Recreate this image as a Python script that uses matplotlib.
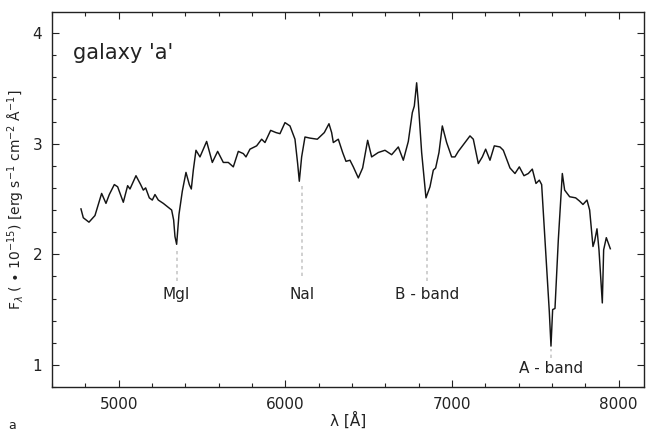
import matplotlib
matplotlib.use("Agg")
import matplotlib.pyplot as plt
from matplotlib.ticker import MultipleLocator

# Spectrum of galaxy 'a'
wavelength = [4774, 4788, 4822, 4858, 4898, 4924, 4944, 4974, 4994, 5028,
              5054, 5068, 5104, 5132, 5148, 5162, 5184, 5202, 5218, 5238,
              5268, 5318, 5330, 5338, 5348, 5362, 5382, 5404, 5424, 5436,
              5448, 5464, 5488, 5528, 5562, 5594, 5628, 5658, 5688, 5718,
              5748, 5764, 5788, 5828, 5858, 5878, 5912, 5944, 5968, 5998,
              6028, 6058, 6074, 6084, 6098, 6118, 6148, 6192, 6234, 6262,
              6278, 6288, 6318, 6344, 6364, 6388, 6408, 6438, 6464, 6494,
              6518, 6558, 6598, 6638, 6678, 6708, 6738, 6762, 6774, 6788,
              6798, 6818, 6844, 6868, 6888, 6902, 6922, 6942, 6968, 6998,
              7018, 7038, 7068, 7108, 7128, 7158, 7182, 7202, 7228, 7254,
              7288, 7308, 7348, 7378, 7404, 7432, 7458, 7482, 7504, 7524,
              7538, 7558, 7584, 7594, 7604, 7618, 7638, 7662, 7676, 7706,
              7742, 7766, 7786, 7810, 7826, 7846, 7856, 7870, 7882, 7902,
              7910, 7926, 7950]
flux = [2.41, 2.33, 2.29, 2.35, 2.55, 2.46, 2.54, 2.63, 2.61, 2.47,
        2.62, 2.59, 2.71, 2.63, 2.58, 2.60, 2.51, 2.49, 2.54, 2.49,
        2.46, 2.40, 2.31, 2.16, 2.09, 2.36, 2.57, 2.74, 2.63, 2.59,
        2.76, 2.94, 2.88, 3.02, 2.83, 2.93, 2.83, 2.83, 2.79, 2.93,
        2.91, 2.88, 2.95, 2.98, 3.04, 3.01, 3.12, 3.10, 3.09, 3.19,
        3.16, 3.04, 2.82, 2.66, 2.88, 3.06, 3.05, 3.04, 3.10, 3.18,
        3.10, 3.01, 3.04, 2.92, 2.84, 2.85, 2.79, 2.69, 2.78, 3.03,
        2.88, 2.92, 2.94, 2.90, 2.97, 2.85, 3.02, 3.28, 3.34, 3.55,
        3.37, 2.92, 2.51, 2.61, 2.76, 2.78, 2.92, 3.16, 3.01, 2.88,
        2.88, 2.93, 2.99, 3.07, 3.04, 2.82, 2.88, 2.95, 2.85, 2.98,
        2.97, 2.94, 2.78, 2.73, 2.79, 2.71, 2.73, 2.77, 2.64, 2.67,
        2.63, 2.13, 1.48, 1.17, 1.50, 1.51, 2.13, 2.73, 2.58, 2.52,
        2.51, 2.48, 2.45, 2.49, 2.40, 2.07, 2.12, 2.23, 2.04, 1.56,
        2.04, 2.15, 2.05]

# Feature annotations
feature_names = ["MgI", "NaI", "B - band", "A - band"]
feature_wl = [5348, 6100, 6850, 7594]
feature_line_top = [2.04, 2.62, 2.48, 1.14]
feature_line_bottom = [1.76, 1.80, 1.76, 1.06]
feature_text_y = [1.64, 1.64, 1.64, 0.965]

x_ticks = [5000, 6000, 7000, 8000]
y_ticks = [1, 2, 3, 4]

plt.rcParams['font.family'] = ['DejaVu Sans']
fig = plt.figure(figsize=(6.48, 4.33), dpi=100)
ax = fig.add_axes([0.0802, 0.1062, 0.9136, 0.8661])

ax.plot(wavelength, flux, color='#141414', lw=1.05, solid_joinstyle='round')

for name, wl, top, bot, ty in zip(feature_names, feature_wl, feature_line_top,
                                  feature_line_bottom, feature_text_y):
    ax.plot([wl, wl], [bot, top], color='#c8c8c8', lw=1.2, ls=(0, (2, 2)))
    ax.text(wl, ty, name, ha='center', va='center', fontsize=11, color='#222222')

ax.set_xlim(4600, 8152)
ax.set_ylim(0.80, 4.19)
ax.set_xticks(x_ticks)
ax.set_yticks(y_ticks)
ax.xaxis.set_minor_locator(MultipleLocator(200))
ax.yaxis.set_minor_locator(MultipleLocator(0.2))
ax.tick_params(which='both', direction='in', top=True, right=True,
               color='#222222', width=0.8)
ax.tick_params(which='major', length=5, labelsize=11, labelcolor='#222222', pad=7)
ax.tick_params(which='minor', length=3)
for s in ax.spines.values():
    s.set_linewidth(1.0)
    s.set_color('#222222')

ax.set_xlabel('λ [Å]', fontsize=11, color='#222222', labelpad=0)
ax.set_ylabel(r'F$_\lambda$ ( $\bullet$ 10$^{-15}$) [erg s$^{-1}$ cm$^{-2}$ Å$^{-1}$]',
              fontsize=10, color='#222222', labelpad=4)

ax.text(0.035, 0.89, "galaxy 'a'", transform=ax.transAxes, fontsize=15,
        color='#222222', ha='left', va='center')
fig.text(0.012, 0.018, 'a', fontsize=9, color='#222222', ha='left', va='center')

fig.savefig('out.png', dpi=100)
